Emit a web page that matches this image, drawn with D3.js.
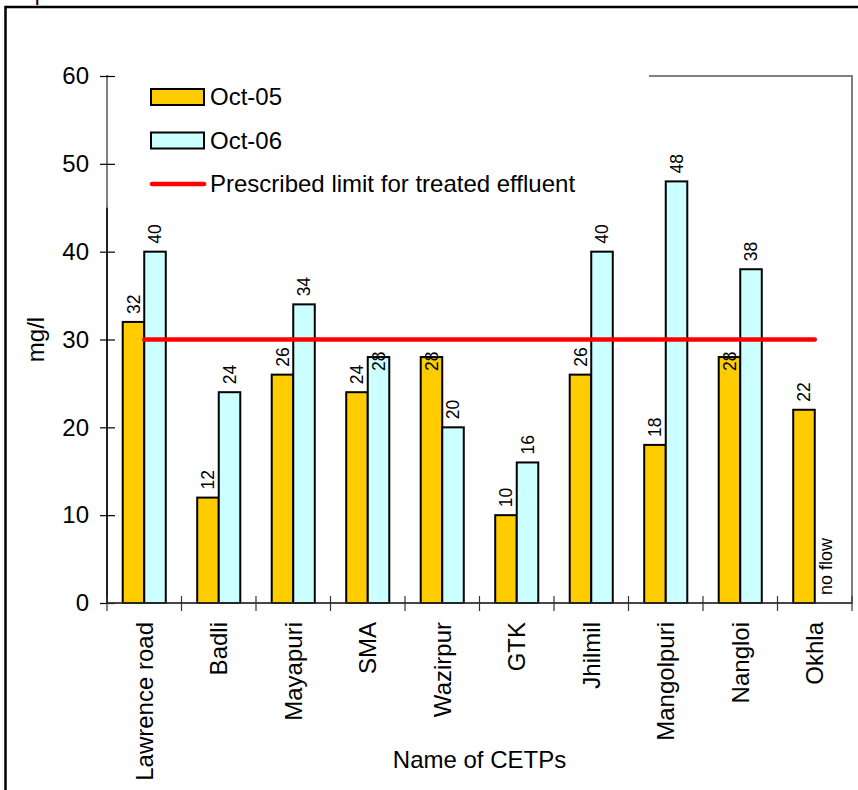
<!DOCTYPE html>
<html>
<head>
<meta charset="utf-8">
<script src="https://cdn.jsdelivr.net/npm/d3@7"></script>
<style>
  body { margin: 0; background: #fff; }
  svg text { font-family: Arial, "Liberation Sans", sans-serif; fill: #000; }
</style>
</head>
<body>
<div id="chart"></div>
<script>
// Data
const categories = ['Lawrence road', 'Badli', 'Mayapuri', 'SMA', 'Wazirpur', 'GTK', 'Jhilmil', 'Mangolpuri', 'Nangloi', 'Okhla'];
const seriesNames = ['Oct-05', 'Oct-06'];
const oct05 = [32, 12, 26, 24, 28, 10, 26, 18, 28, 22];
const oct06 = [40, 24, 34, 28, 20, 16, 40, 48, 38, null];
const limitValue = 30;
const limitLabel = 'Prescribed limit for treated effluent';
const missingLabel = 'no flow';
const yTicks = [0, 10, 20, 30, 40, 50, 60];
const titleText = 'Graph 2: BOD levels in treated effluents of CETPs in Oct-05 and Oct-06';

const colors = { 'Oct-05': '#FFCC00', 'Oct-06': '#CCFFFF' };

const width = 858, height = 790;
const margin = { top: 76, right: 6, bottom: 187, left: 107 };
const innerW = width - margin.left - margin.right;
const innerH = height - margin.top - margin.bottom;

const svg = d3.select('#chart').append('svg')
  .attr('width', width)
  .attr('height', height);

// title sits mostly above the page edge, as in the scan
svg.append('text')
  .attr('x', -2)
  .attr('y', 0)
  .attr('font-size', 22)
  .text(titleText);

svg.append('rect')
  .attr('x', 5.5).attr('y', 7)
  .attr('width', 900).attr('height', 900)
  .attr('fill', 'none')
  .attr('stroke', '#000')
  .attr('stroke-width', 2.5);

const g = svg.append('g')
  .attr('transform', `translate(${margin.left},${margin.top})`);

const x0 = d3.scaleBand().domain(categories).range([0, innerW]).padding(0);
const bw = x0.bandwidth();
const x1 = d3.scaleBand().domain(seriesNames).range([bw * 0.211, bw * 0.789]).padding(0);
const y = d3.scaleLinear().domain([0, 60]).range([innerH, 0]);

// plot area border (grey)
g.append('rect')
  .attr('x', 0).attr('y', 0)
  .attr('width', innerW).attr('height', innerH)
  .attr('fill', 'none')
  .attr('stroke', '#808080')
  .attr('stroke-width', 2);

// legend background hides part of the border
const legendBottom = y(45);
g.append('rect')
  .attr('x', 1.5).attr('y', -20)
  .attr('width', 542 - 1.5).attr('height', legendBottom + 20)
  .attr('fill', '#fff');

// bars
const rows = categories.map((c, i) => ({ cat: c, values: [oct05[i], oct06[i]] }));
const groups = g.selectAll('.grp')
  .data(rows)
  .join('g')
  .attr('class', 'grp')
  .attr('transform', d => `translate(${x0(d.cat)},0)`);

groups.selectAll('rect')
  .data(d => d.values.map((v, j) => ({ key: seriesNames[j], v })))
  .join('rect')
  .filter(d => d.v != null)
  .attr('x', d => x1(d.key))
  .attr('y', d => y(d.v))
  .attr('width', x1.bandwidth())
  .attr('height', d => innerH - y(d.v))
  .attr('fill', d => colors[d.key])
  .attr('stroke', '#000')
  .attr('stroke-width', 2);

// limit line
g.append('line')
  .attr('x1', x0(categories[0]) + bw / 2)
  .attr('x2', x0(categories[categories.length - 1]) + bw / 2)
  .attr('y1', y(limitValue))
  .attr('y2', y(limitValue))
  .attr('stroke', '#ff0000')
  .attr('stroke-width', 4.5)
  .attr('stroke-linecap', 'round');

// value labels (rotated)
const labelFont = 17.5;
const labelLen = 19;
const lineY = y(limitValue);
groups.selectAll('.val')
  .data(d => d.values.map((v, j) => ({ key: seriesNames[j], v })))
  .join('text')
  .attr('class', 'val')
  .attr('font-size', d => d.v == null ? 18 : labelFont)
  .attr('dy', '0.35em')
  .attr('transform', d => {
    const cx = x1(d.key) + x1.bandwidth() / 2;
    const top = y(d.v == null ? 0 : d.v);
    let base = top - 8;
    // labels that would sit on the limit line are pushed down over the bar top
    if (d.v != null && base - labelLen < lineY + 3 && base > lineY - 3) base = top + 14;
    return `translate(${cx},${base}) rotate(-90)`;
  })
  .text(d => d.v == null ? missingLabel : d.v);

// y axis
const yAxis = g.append('g')
  .call(d3.axisLeft(y).tickValues(yTicks).tickSize(0).tickPadding(18));
yAxis.select('.domain').remove();
yAxis.selectAll('.tick line')
  .attr('x1', -7).attr('x2', 8)
  .attr('stroke', '#000').attr('stroke-width', 1.2);
yAxis.selectAll('.tick text')
  .attr('font-size', 24)
  .attr('font-family', 'Arial, "Liberation Sans", sans-serif');

g.append('line')
  .attr('x1', 0).attr('x2', 0)
  .attr('y1', legendBottom).attr('y2', innerH)
  .attr('stroke', '#000').attr('stroke-width', 1.5);

// x axis
g.append('line')
  .attr('x1', 0).attr('x2', innerW)
  .attr('y1', innerH).attr('y2', innerH)
  .attr('stroke', '#333').attr('stroke-width', 1.5);

g.selectAll('.xtick')
  .data(d3.range(categories.length + 1))
  .join('line')
  .attr('class', 'xtick')
  .attr('x1', i => i * bw).attr('x2', i => i * bw)
  .attr('y1', innerH - 7).attr('y2', innerH + 8)
  .attr('stroke', '#333').attr('stroke-width', 1.2);

g.selectAll('.xlab')
  .data(categories)
  .join('text')
  .attr('class', 'xlab')
  .attr('font-size', 24)
  .attr('text-anchor', 'end')
  .attr('dy', '0.35em')
  .attr('transform', d => `translate(${x0(d) + bw / 2},${innerH + 19}) rotate(-90)`)
  .text(d => d);

// axis titles
svg.append('text')
  .attr('x', margin.left + innerW / 2)
  .attr('y', 768)
  .attr('text-anchor', 'middle')
  .attr('font-size', 24)
  .text('Name of CETPs');

svg.append('text')
  .attr('transform', `translate(44,${margin.top + innerH / 2}) rotate(-90)`)
  .attr('text-anchor', 'middle')
  .attr('font-size', 24)
  .text('mg/l');

// legend
const legend = g.append('g').attr('transform', 'translate(44,21)');
const legendItems = [
  { label: seriesNames[0], type: 'box', color: colors['Oct-05'] },
  { label: seriesNames[1], type: 'box', color: colors['Oct-06'] },
  { label: limitLabel, type: 'line', color: '#ff0000' }
];
legendItems.forEach((d, i) => {
  const row = legend.append('g').attr('transform', `translate(0,${i * 43.5})`);
  if (d.type === 'box') {
    row.append('rect')
      .attr('x', 0).attr('y', -8)
      .attr('width', 53).attr('height', 16)
      .attr('fill', d.color)
      .attr('stroke', '#000')
      .attr('stroke-width', 2);
  } else {
    row.append('line')
      .attr('x1', 1).attr('x2', 53)
      .attr('y1', 0).attr('y2', 0)
      .attr('stroke', d.color)
      .attr('stroke-width', 4.5)
      .attr('stroke-linecap', 'round');
  }
  row.append('text')
    .attr('x', 59)
    .attr('dy', '0.35em')
    .attr('font-size', 24)
    .text(d.label);
});
</script>
</body>
</html>
